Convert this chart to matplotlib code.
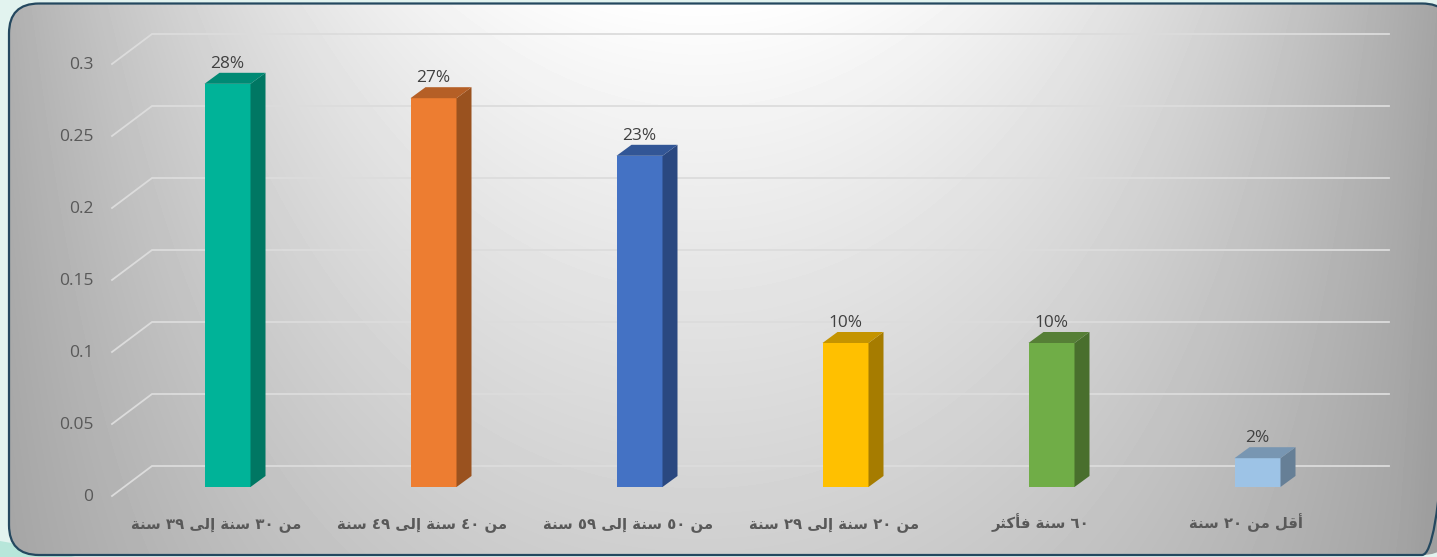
import numpy as np
import matplotlib
matplotlib.use("Agg")
import matplotlib.pyplot as plt
from matplotlib.patches import FancyBboxPatch, Polygon
from matplotlib.transforms import ScaledTranslation

# ---- data ----
categories = ["من ٣٠ سنة إلى ٣٩ سنة", "من ٤٠ سنة إلى ٤٩ سنة", "من ٥٠ سنة إلى ٥٩ سنة",
              "من ٢٠ سنة إلى ٢٩ سنة", "٦٠ سنة فأكثر", "أقل من ٢٠ سنة"]
values = [0.28, 0.27, 0.23, 0.10, 0.10, 0.02]
y_ticks = [0, 0.05, 0.1, 0.15, 0.2, 0.25, 0.3]
y_tick_labels = ["0", "0.05", "0.1", "0.15", "0.2", "0.25", "0.3"]
front_colors = ["#00B398", "#ED7D31", "#4472C4", "#FFC000", "#70AD47", "#9DC3E6"]
side_colors = ["#007763", "#9A521F", "#2A4880", "#A67C00", "#496F2D", "#667F96"]
top_colors = ["#008A74", "#B55F26", "#325696", "#C49400", "#567F36", "#7896B2"]

# ---- Arabic shaping (matplotlib draws no joined or right-to-left text by itself) ----
FORMS = {
    "م": "\uFEE1\uFEE2\uFEE3\uFEE4", "ن": "\uFEE5\uFEE6\uFEE7\uFEE8",
    "س": "\uFEB1\uFEB2\uFEB3\uFEB4", "ل": "\uFEDD\uFEDE\uFEDF\uFEE0",
    "ق": "\uFED5\uFED6\uFED7\uFED8", "ف": "\uFED1\uFED2\uFED3\uFED4",
    "ك": "\uFED9\uFEDA\uFEDB\uFEDC", "ث": "\uFE99\uFE9A\uFE9B\uFE9C",
    "ة": "\uFE93\uFE94", "إ": "\uFE87\uFE88", "ى": "\uFEEF\uFEF0",
    "أ": "\uFE83\uFE84", "ر": "\uFEAD\uFEAE",
}

def shape_word(word):
    if word[0] not in FORMS:
        return word
    out = []
    for i, ch in enumerate(word):
        forms = FORMS[ch]
        joins_prev = i > 0 and len(FORMS[word[i - 1]]) == 4
        joins_next = i < len(word) - 1 and len(forms) == 4
        idx = (1 if joins_prev else 0) if not joins_next else (3 if joins_prev else 2)
        out.append(forms[idx])
    return "".join(reversed(out))

def shape(text):
    return " ".join(shape_word(w) for w in reversed(text.split(" ")))

# ---- figure ----
W, H = 1437, 557
fig = plt.figure(figsize=(W / 100, H / 100), dpi=100, facecolor="#E2F3EF")

bg = fig.add_axes([0, 0, 1, 1])
bg.set_xlim(0, W)
bg.set_ylim(H, 0)
bg.axis("off")
bg.add_patch(Polygon([(0, 541), (45, 549), (75, 557), (0, 557)], fc="#B7E6DA", ec="none", zorder=0))
xx, yy = np.meshgrid(np.arange(W) + .5, np.arange(H) + .5)
dx_n = (xx - 700) / 700
dy_n = np.clip(yy, 0, None) / 560
g = 1.0 - 0.32 * dx_n ** 2 - 0.19 * dy_n ** 0.9 * (1 - 0.8 * np.clip(dx_n ** 2, 0, 1))
g = np.clip(g, 0.62, 1)
im = bg.imshow(g, cmap="gray", vmin=0, vmax=1, extent=(0, W, H, 0), aspect="auto", zorder=1)
x0, x1, y0, y1 = 9, 1452, 3.5, 555
panel = FancyBboxPatch((x0 + 30, y0 + 30), x1 - x0 - 60, y1 - y0 - 60,
                       boxstyle="round,pad=30,rounding_size=30",
                       fc="none", ec="#24485F", lw=1.6, zorder=2, clip_on=False)
bg.add_patch(panel)
im.set_clip_path(panel)
bg.set_xlim(0, W)
bg.set_ylim(H, 0)

ax = fig.add_axes([124.5 / W, (H - 487) / H, 1236 / W, 432 / H])
ax.patch.set_alpha(0)
ax.set_xlim(-0.5, 5.5)
ax.set_ylim(0, 0.3)
for s in ax.spines.values():
    s.set_visible(False)

px = 1 / (1236 / 6)   # one pixel in category units
py = 0.3 / 432        # one pixel in value units
half = 23 * px
dx, dy = 15 * px, 11 * py

x_left = -0.5 + (112 - 124.5) * px
x_back = -0.5 + (152 - 124.5) * px
x_right = -0.5 + (1389 - 124.5) * px
for v in y_ticks:
    ax.plot([x_left, x_back, x_right], [v - 9 * py, v + 21 * py, v + 21 * py],
            color="#DCDCDC", lw=1.3, clip_on=False, zorder=1, solid_joinstyle="miter")

pos = np.arange(len(values))
ax.bar(pos, values, width=2 * half, color=front_colors, zorder=3, linewidth=0)
for x, v, side, top in zip(pos, values, side_colors, top_colors):
    ax.fill([x + half, x + half + dx, x + half + dx, x + half],
            [0, dy, v + dy, v], color=side, lw=0, zorder=3, clip_on=False)
    ax.fill([x - half, x + half, x + half + dx, x - half + dx],
            [v, v, v + dy, v + dy], color=top, lw=0, zorder=3, clip_on=False)
    ax.annotate(f"{round(v * 100)}%", (x, v), xytext=(0, 20 * 0.72), textcoords="offset points",
                ha="center", va="center", fontsize=12.4, family="Open Sans", color="#404040", zorder=4)

ax.set_yticks(y_ticks)
ax.set_yticklabels(y_tick_labels, family="Open Sans", fontsize=12.5, color="#595959")
ax.tick_params(axis="y", length=0, pad=22.5)
for lab in ax.get_yticklabels():
    lab.set_transform(lab.get_transform() + ScaledTranslation(0, -8 / 100, fig.dpi_scale_trans))

ax.set_xticks(pos)
ax.set_xticklabels([shape(c) for c in categories], family="DejaVu Sans", fontweight="bold",
                   fontsize=10.7, color="#595959", va="baseline")
ax.tick_params(axis="x", length=0, pad=29.5)
for lab in ax.get_xticklabels():
    lab.set_transform(lab.get_transform() + ScaledTranslation(-11.5 / 100, 0, fig.dpi_scale_trans))

fig.savefig("out.png", dpi=100, facecolor=fig.get_facecolor())
